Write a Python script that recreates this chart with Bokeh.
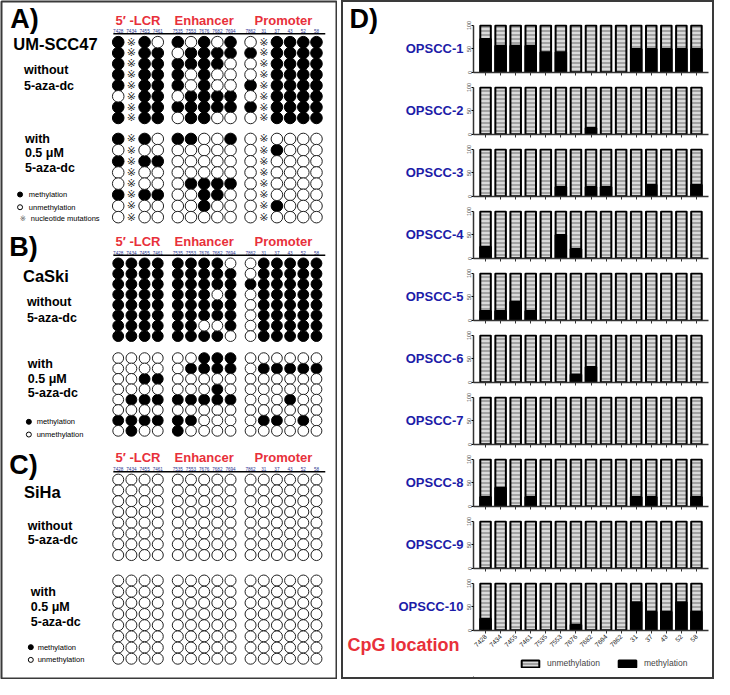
import math
from bokeh.plotting import figure
from bokeh.models import Range1d, FactorRange, FixedTicker, Label, Legend, LegendItem
from bokeh.layouts import row, column
from bokeh.embed import file_html
from bokeh.resources import INLINE
from bokeh.core.properties import value

# ---------------- data ----------------
CPG_LCR = ["7428", "7434", "7455", "7461"]
CPG_ENH = ["7535", "7553", "7676", "7682", "7694"]
CPG_PROM = ["7862", "31", "37", "43", "52", "58"]
REGIONS = ["5′ -LCR", "Enhancer", "Promoter"]
CPG_SITES = CPG_LCR + CPG_ENH + CPG_PROM

# 1 = methylated, 0 = unmethylated, x = nucleotide mutation (LCR | enhancer | promoter)
UMSCC47_WITHOUT = ["1x10 10101 0x1111", "1x11 01111 1x1111", "1x11 11110 0x1111", "1x11 10100 0x1111",
                   "1x11 10100 1x1111", "0x11 01111 0x1111", "1x11 11111 1x1111", "1x11 01100 0x1111"]
UMSCC47_WITH = ["1x10 11001 0x0000", "0x00 00000 0x1000", "1x11 00000 0x0000", "0x00 00000 0x0000",
                "0x00 01111 0x0000", "1x11 00110 0x0000", "0x00 00100 0x1000", "0x00 00000 0x0000"]
CASKI_WITHOUT = ["1111 11110 011111", "1111 11111 011111", "1111 11111 111111", "1111 11101 011111",
                 "1111 11111 011111", "1111 11111 011111", "1111 11001 011111", "1111 11110 011111"]
CASKI_WITH = ["0000 00111 000000", "0000 01111 011111", "0011 00000 000000", "0000 00010 000000",
              "0111 11111 000100", "0000 00000 000000", "1111 11000 011010", "0100 10000 000000"]
SIHA_WITHOUT = ["0000 00000 000000"] * 8
SIHA_WITH = ["0000 00000 000000"] * 8

SAMPLES = ["OPSCC-1", "OPSCC-2", "OPSCC-3", "OPSCC-4", "OPSCC-5",
           "OPSCC-6", "OPSCC-7", "OPSCC-8", "OPSCC-9", "OPSCC-10"]
OPSCC_1 = [71, 57, 57, 57, 43, 43, 0, 0, 0, 0, 50, 50, 50, 50, 50]
OPSCC_2 = [0, 0, 0, 0, 0, 0, 0, 14, 0, 0, 0, 0, 0, 0, 0]
OPSCC_3 = [0, 0, 0, 0, 0, 20, 0, 20, 20, 0, 0, 25, 0, 0, 25]
OPSCC_4 = [25, 0, 0, 0, 0, 50, 20, 0, 0, 0, 0, 0, 0, 0, 0]
OPSCC_5 = [20, 20, 40, 20, 0, 0, 0, 0, 0, 0, 0, 0, 0, 0, 0]
OPSCC_6 = [0, 0, 0, 0, 0, 0, 17, 33, 0, 0, 0, 0, 0, 0, 0]
OPSCC_7 = [0, 0, 0, 0, 0, 0, 0, 0, 0, 0, 0, 0, 0, 0, 0]
OPSCC_8 = [20, 40, 0, 20, 0, 0, 0, 0, 0, 0, 20, 20, 0, 0, 20]
OPSCC_9 = [0, 0, 0, 0, 0, 0, 0, 0, 0, 0, 0, 0, 0, 0, 0]
OPSCC_10 = [25, 0, 0, 0, 0, 0, 12, 0, 0, 0, 60, 40, 40, 60, 40]
METHYLATION_PCT = [OPSCC_1, OPSCC_2, OPSCC_3, OPSCC_4, OPSCC_5,
                   OPSCC_6, OPSCC_7, OPSCC_8, OPSCC_9, OPSCC_10]
TOTAL_PCT = 100

# ---------------- styles ----------------
FONT = "Liberation Sans"
RED = "#e8303a"
BLUE = "#1c1ca8"
NAVY = "#2a3590"
BOX = "#3a3a3a"
STRIPES = dict(fill_color="#a4a4a4", hatch_pattern="horizontal_line", hatch_color="white",
               hatch_weight=1.2, hatch_scale=4.0, line_color="black", line_width=2)
SOLID = dict(fill_color="black", line_color="black", line_width=2)

TOTAL_H = 679

# ---------------- left panel (A, B, C) ----------------
LW = 337
left = figure(width=LW, height=TOTAL_H, x_range=Range1d(0, 343), y_range=Range1d(691, 0),
              x_axis_type=None, y_axis_type=None, output_backend="svg",
              toolbar_location=None, min_border=1)
left.outline_line_color = BOX
left.outline_line_width = 2

X0, STEP, GAP = 119.5, 13.5, 7.0
GROUPS = [CPG_LCR, CPG_ENH, CPG_PROM]
col_x = []
group_x = []
for g, sites in enumerate(GROUPS):
    xs = []
    for s in sites:
        xs.append(X0 + STEP * len(col_x) + GAP * g)
        col_x.append(xs[-1])
    group_x.append(xs)


def draw_block(rows, y0, dy, size):
    fx, fy, ox, oy, mx, my = [], [], [], [], [], []
    for i, r in enumerate(rows):
        cells = r.replace(" ", "")
        y = y0 + i * dy
        for j, c in enumerate(cells):
            if c == "1":
                fx.append(col_x[j]); fy.append(y)
            elif c == "0":
                ox.append(col_x[j]); oy.append(y)
            else:
                mx.append(col_x[j]); my.append(y)
    if fx:
        left.scatter(fx, fy, size=size, marker="circle", fill_color="black", line_color="black", line_width=1)
    if ox:
        left.scatter(ox, oy, size=size, marker="circle", fill_color="white", line_color="#222222", line_width=1)
    if mx:
        left.text(mx, my, text=["※"] * len(mx), text_font=value("DejaVu Sans"), text_font_size="11px",
                  text_align="center", text_baseline="middle", text_color="#2a2a2a")


def draw_header(y_title, y_nums, y_line):
    for g, sites in enumerate(GROUPS):
        xs = group_x[g]
        cx = sum(xs) / len(xs)
        left.add_layout(Label(x=cx, y=y_title, text=REGIONS[g], text_font=FONT, text_font_size="13px",
                              text_font_style="bold", text_color=RED, text_align="center",
                              text_baseline="middle"))
        left.text(xs, [y_nums] * len(xs), text=sites, text_font=value(FONT), text_font_size="4.6px",
                  text_align="center", text_baseline="middle", text_color=NAVY)
    left.segment(x0=[col_x[0] - 5], y0=[y_line], x1=[col_x[-1] + 9], y1=[y_line],
                 line_color="black", line_width=1.5)


draw_header(19, 30, 33)
draw_block(UMSCC47_WITHOUT, 41.5, 11.05, 11.6)
draw_block(UMSCC47_WITH, 140.3, 11.4, 11.6)
draw_header(245, 256.5, 259)
draw_block(CASKI_WITHOUT, 267.3, 10.6, 10.8)
draw_block(CASKI_WITH, 364, 10.6, 10.8)
draw_header(465, 477, 480)
draw_block(SIHA_WITHOUT, 488, 11.0, 11.0)
draw_block(SIHA_WITH, 591, 11.4, 11.0)

LEFT_TEXTS = [
    ("A)", 9, 18, "27px"), ("UM-SCC47", 12, 43, "16.5px"),
    ("without", 23, 70, "12.5px"), ("5-aza-dc", 23, 86, "12.5px"),
    ("with", 24, 140, "12.5px"), ("0.5 μM", 24, 155, "12.5px"), ("5-aza-dc", 24, 170, "12.5px"),
    ("B)", 8, 251, "27px"), ("CaSki", 22, 280, "16.5px"),
    ("without", 26, 307, "12.5px"), ("5-aza-dc", 26, 323, "12.5px"),
    ("with", 27, 370, "12.5px"), ("0.5 μM", 27, 385, "12.5px"), ("5-aza-dc", 27, 400, "12.5px"),
    ("C)", 8, 473, "27px"), ("SiHa", 23, 501, "16.5px"),
    ("without", 27, 535, "12.5px"), ("5-aza-dc", 27, 550, "12.5px"),
    ("with", 30, 603, "12.5px"), ("0.5 μM", 30, 618, "12.5px"), ("5-aza-dc", 30, 633, "12.5px"),
]
for t, x, y, fs in LEFT_TEXTS:
    left.add_layout(Label(x=x, y=y, text=t, text_font=FONT, text_font_size=fs, text_font_style="bold",
                          text_color="black", text_align="left", text_baseline="middle"))

KEY_TEXTS = [
    ("methylation", 28, 197), ("unmethylation", 28, 210), ("nucleotide mutations", 30, 221),
    ("methylation", 36, 429), ("unmethylation", 36, 442),
    ("methylation", 37, 659), ("unmethylation", 37, 672),
]
for t, x, y in KEY_TEXTS:
    left.add_layout(Label(x=x, y=y, text=t, text_font=FONT, text_font_size="7.5px",
                          text_color="black", text_align="left", text_baseline="middle"))
left.scatter([19, 28, 30], [197, 429, 659], size=5, marker="circle", fill_color="black", line_color="black")
left.scatter([19, 28, 30], [210, 442, 672], size=5, marker="circle", fill_color="white", line_color="black")
left.text([22], [221], text=["※"], text_font=value("DejaVu Sans"), text_font_size="7.5px",
          text_align="center", text_baseline="middle", text_color="#555555")

# ---------------- right panel (D) ----------------
INNER_H = TOTAL_H - 4   # right box height inside its 2px border
LAB_W = 121             # label column width
SUB_W = 248             # width of each bar chart
AX_W = 8                # room for the y axis of each bar chart
FRAME_H = 48
TOP1, TOPK, GAPB, BOT10 = 22, 8, 6, 22

figs = []
frame_tops = []
y_cursor = 0
for k, (name, vals) in enumerate(zip(SAMPLES, METHYLATION_PCT)):
    first = k == 0
    last = k == len(SAMPLES) - 1
    top = TOP1 if first else TOPK
    bottom = BOT10 if last else GAPB
    frame_tops.append(y_cursor + top)
    y_cursor += top + FRAME_H + bottom
    p = figure(width=SUB_W, height=top + FRAME_H + bottom,
               x_range=FactorRange(*CPG_SITES, range_padding=0.3, range_padding_units="absolute"),
               y_range=Range1d(0, 102), output_backend="svg", toolbar_location=None,
               min_border_left=AX_W, min_border_right=4, min_border_top=top, min_border_bottom=bottom)
    p.grid.visible = False
    p.outline_line_color = None
    p.vbar(x=CPG_SITES, top=[TOTAL_PCT] * len(CPG_SITES), width=0.7, **STRIPES)
    p.vbar(x=CPG_SITES, top=vals, width=0.7, **SOLID)

    xa = p.xaxis[0]
    xa.axis_line_color = "#333333"
    xa.axis_line_width = 1.5
    xa.major_tick_out = 3
    xa.major_tick_in = 0
    xa.major_tick_line_color = "#333333"
    if last:
        xa.major_label_orientation = math.pi / 4
        xa.major_label_text_font_size = "6.5px"
        xa.major_label_text_font = FONT
        xa.major_label_text_color = "#222222"
        xa.major_label_standoff = 2
    else:
        xa.major_label_text_font_size = "1px"
        xa.major_label_text_color = None
        xa.major_label_standoff = 0

    ya = p.yaxis[0]
    ya.ticker = FixedTicker(ticks=[0, 50, 100])
    ya.bounds = (0, 100)
    ya.axis_line_color = "#333333"
    ya.axis_line_width = 1.5
    ya.major_tick_out = 2
    ya.major_tick_in = 0
    ya.minor_tick_line_color = None
    ya.major_label_orientation = "vertical"
    ya.major_label_text_font_size = "5.5px"
    ya.major_label_text_font = FONT
    ya.major_label_standoff = 0
    figs.append(p)

# legend strip below the last bar chart (legend glyphs come from renderers placed outside the view)
LEG_H = INNER_H - y_cursor
leg = figure(width=SUB_W, height=LEG_H, x_range=Range1d(0, 1), y_range=Range1d(0, 1),
             x_axis_type=None, y_axis_type=None, output_backend="svg", toolbar_location=None,
             min_border=0)
leg.outline_line_color = None
leg.grid.visible = False
r_u = leg.vbar(x=[-50], bottom=[-50], top=[-49], width=0.5, **STRIPES)
r_m = leg.vbar(x=[-50], bottom=[-50], top=[-49], width=0.5, **SOLID)
leg.add_layout(Legend(items=[LegendItem(label="unmethylation", renderers=[r_u]),
                             LegendItem(label="methylation", renderers=[r_m])],
                      orientation="horizontal", location=(46, max(LEG_H - 16, 0)),
                      glyph_width=22, glyph_height=9,
                      label_text_font=FONT, label_text_font_size="8.5px", label_standoff=6,
                      spacing=16, padding=2, margin=0, border_line_color=None,
                      background_fill_alpha=0, label_height=9))

# label column on the left of the bar charts
lab = figure(width=LAB_W, height=INNER_H, x_range=Range1d(0, LAB_W), y_range=Range1d(INNER_H, 0),
             x_axis_type=None, y_axis_type=None, output_backend="svg", toolbar_location=None,
             min_border=0)
lab.outline_line_color = None
lab.grid.visible = False
PX_PCT = FRAME_H / 102.0
for name, ft in zip(SAMPLES, frame_tops):
    lab.add_layout(Label(x=LAB_W - 1, y=ft + (102 - 50) * PX_PCT, text=name, text_font=FONT,
                         text_font_size="13px", text_font_style="bold", text_color=BLUE,
                         text_align="right", text_baseline="middle"))
lab.add_layout(Label(x=6, y=frame_tops[0] + 2 * PX_PCT - 6, text="D)", text_font=FONT,
                     text_font_size="27px", text_font_style="bold", text_color="black",
                     text_align="left", text_baseline="middle"))
lab.add_layout(Label(x=4, y=frame_tops[-1] + FRAME_H + 14, text="CpG location", text_font=FONT,
                     text_font_size="18px", text_font_style="bold", text_color=RED,
                     text_align="left", text_baseline="middle"))

charts = column(*figs, leg, spacing=0)
right = row(lab, charts, spacing=0, styles={"border": "2px solid " + BOX})
layout = row(left, right, spacing=4)

open("out.html", "w").write(file_html(layout, INLINE))
